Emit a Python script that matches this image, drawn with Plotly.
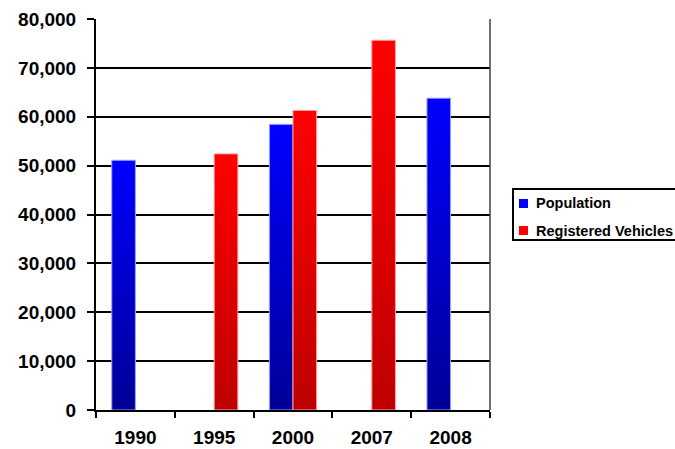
import plotly.graph_objects as go

years = ["1990", "1995", "2000", "2007", "2008"]
population = [51100, None, 58450, None, 63800]
vehicles = [None, 52400, 61300, 75650, None]
y_tick_values = [0, 10000, 20000, 30000, 40000, 50000, 60000, 70000, 80000]
series_names = ["Population", "Registered Vehicles"]
series_colors = ["#0000FF", "#FF0000"]

fig = go.Figure()
fig.add_trace(go.Bar(
    name=series_names[0], x=years, y=population,
    marker=dict(color=series_colors[0], line=dict(color="#A0A0FF", width=1)),
))
fig.add_trace(go.Bar(
    name=series_names[1], x=years, y=vehicles,
    marker=dict(color=series_colors[1], line=dict(color="#FFA0A0", width=1)),
))

# plot area in pixels: x 96..490, y 19..410
def px_x(p):
    return (p - 96) / 394.0

def px_y(p):
    return (410 - p) / 391.0

shapes = [
    dict(type="line", xref="paper", yref="paper", x0=1, x1=1, y0=0, y1=1,
         line=dict(color="#404040", width=1.5)),
    # legend box
    dict(type="rect", xref="paper", yref="paper",
         x0=px_x(513), x1=px_x(700), y0=px_y(240), y1=px_y(189),
         line=dict(color="black", width=2), fillcolor="white"),
]
annotations = []
rows = [203.5, 230.5]
for name, col, cy in zip(series_names, series_colors, rows):
    shapes.append(dict(type="rect", xref="paper", yref="paper",
                       x0=px_x(519), x1=px_x(528), y0=px_y(cy + 4.5), y1=px_y(cy - 4.5),
                       line=dict(width=0), fillcolor=col))
    annotations.append(dict(text=name, xref="paper", yref="paper",
                            x=px_x(534), y=px_y(cy), xanchor="left", yanchor="middle",
                            showarrow=False, font=dict(size=14.5, weight="bold")))

fig.update_layout(
    width=675, height=449,
    margin=dict(l=96, r=185, t=19, b=39, autoexpand=False),
    barmode="group", bargap=0.40, bargroupgap=0,
    plot_bgcolor="white", paper_bgcolor="white",
    font=dict(family="Liberation Sans, Arial, sans-serif", size=19, color="black", weight="bold"),
    showlegend=False,
    xaxis=dict(
        showline=True, linecolor="black", linewidth=2,
        ticks="outside", tickson="boundaries", ticklen=6, tickwidth=2, tickcolor="black",
        showgrid=False, ticklabelstandoff=9,
    ),
    yaxis=dict(
        range=[0, 80000], tickvals=y_tick_values, tickformat=",",
        showline=True, linecolor="black", linewidth=2,
        ticks="outside", ticklen=7, tickwidth=2, tickcolor="black",
        showgrid=True, gridcolor="black", gridwidth=2,
        zeroline=False, ticklabelstandoff=7,
    ),
    shapes=shapes,
    annotations=annotations,
)

post = """
var gd = document.querySelector('.js-plotly-plot');
var svg = gd.querySelector('svg.main-svg');
var ns = 'http://www.w3.org/2000/svg';
var defs = document.createElementNS(ns, 'defs');
svg.insertBefore(defs, svg.firstChild);
function mk(id, c1, c2) {
  var g = document.createElementNS(ns, 'linearGradient');
  g.setAttribute('id', id);
  g.setAttribute('x1', '0'); g.setAttribute('y1', '0');
  g.setAttribute('x2', '0'); g.setAttribute('y2', '1');
  var s1 = document.createElementNS(ns, 'stop');
  s1.setAttribute('offset', '0'); s1.setAttribute('stop-color', c1);
  var s2 = document.createElementNS(ns, 'stop');
  s2.setAttribute('offset', '1'); s2.setAttribute('stop-color', c2);
  g.appendChild(s1); g.appendChild(s2); defs.appendChild(g);
}
mk('gradBlue', '#0000FF', '#000096');
mk('gradRed', '#FF0000', '#BE0000');
var traces = gd.querySelectorAll('.barlayer .trace');
var ids = ['gradBlue', 'gradRed'];
traces.forEach(function(t, i) {
  t.querySelectorAll('.point path').forEach(function(p) {
    p.style.fill = 'url(#' + ids[i] + ')';
  });
});
"""

fig.write_html("out.html", post_script=post)
